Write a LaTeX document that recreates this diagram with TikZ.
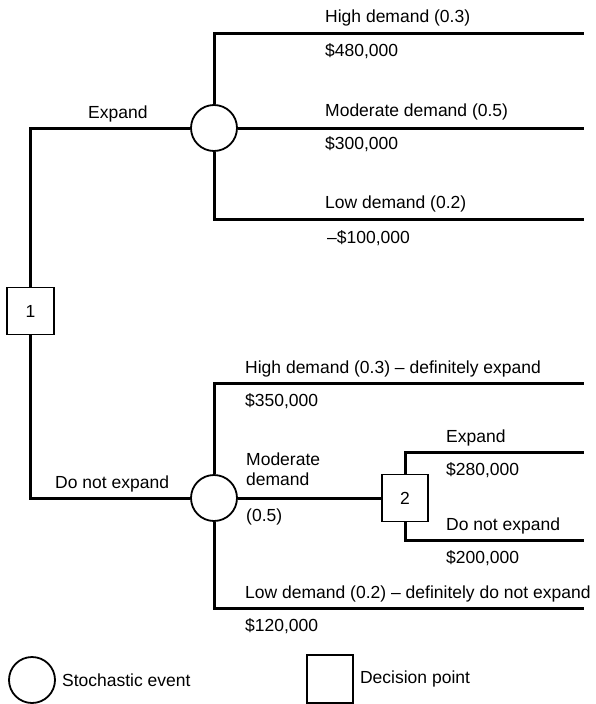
\documentclass[tikz,border=0pt]{standalone}
\usepackage{fontspec}
\setmainfont{Liberation Sans}
\usepackage{tikz}
\usetikzlibrary{positioning,calc}

\begin{document}
\begin{tikzpicture}[
  x=1pt,y=-1pt,
  chance/.style={circle,draw=black,line width=1.8pt,fill=white,minimum size=46pt,inner sep=0pt},
  decision/.style={rectangle,draw=black,line width=1.8pt,fill=white,minimum width=47pt,minimum height=47pt,inner sep=0pt,font=\fontsize{17.5}{20}\selectfont},
  branch/.style={line width=3pt},
  lbl/.style={anchor=base west,inner sep=0pt,font=\fontsize{17.5}{20}\selectfont}
]
\useasboundingbox (0,0) rectangle (595,704);
% end points of the branches
\coordinate (e1) at (584,33);
\coordinate (e2) at (584,128);
\coordinate (e3) at (584,219);
\coordinate (e4) at (584,383);
\coordinate (e5) at (584,452);
\coordinate (e6) at (584,540);
\coordinate (e7) at (584,608);
\node[decision] (d1) at (30.5,311) {1};
\node[chance] (c1) at (214,128) {};
\node[chance] (c2) at (214,498) {};
\node[decision,minimum width=46pt] (d2) at (405,498) {2};
\draw[branch] (d1.north) |- (c1.west);
\draw[branch] (d1.south) |- (c2.west);
\draw[branch] (c1.north) |- (e1);
\draw[branch] (c1.east) -- (e2);
\draw[branch] (c1.south) |- (e3);
\draw[branch] (c2.north) |- (e4);
\draw[branch] (c2.east) -- (d2.west);
\draw[branch] (c2.south) |- (e7);
\draw[branch] (d2.north) |- (e5);
\draw[branch] (d2.south) |- (e6);
\node[lbl] (expand) at (88,118) {Expand};
\node[lbl] (noexpand) at (55,488) {Do not expand};
\node[lbl] (high1) at (325,23) {High demand (0.3)};
\node[lbl] (val1) at (325,56) {\$480,000};
\node[lbl] (mod1) at (325,116) {Moderate demand (0.5)};
\node[lbl] (val2) at (325,149) {\$300,000};
\node[lbl] (low1) at (325,208) {Low demand (0.2)};
\node[lbl] (val3) at (327,243) {\textendash\$100,000};
\node[lbl] (high2) at (245,373) {High demand (0.3) \textendash{} definitely expand};
\node[lbl] (val4) at (245,406) {\$350,000};
\node[lbl] (mod2) at (246,465) {Moderate};
\node[lbl] (mod2b) at (246,485) {demand};
\node[lbl] (prob2) at (246,521) {(0.5)};
\node[lbl] (exp2) at (446,442) {Expand};
\node[lbl] (val5) at (446,475) {\$280,000};
\node[lbl] (noexp2) at (446,530) {Do not expand};
\node[lbl] (val6) at (446,563) {\$200,000};
\node[lbl] (low2) at (245,598) {Low demand (0.2) \textendash{} definitely do not expand};
\node[lbl] (val7) at (245,631) {\$120,000};
\node[chance] (keyc) at (32,680) {};
\node[lbl,right=6pt of keyc.east,anchor=west] (keyctext) {Stochastic event};
\node[decision,minimum height=48pt,minimum width=46pt] (keyd) at (330,679) {};
\node[lbl,right=6pt of keyd.east,anchor=west] (keydtext) {Decision point};
\end{tikzpicture}
\end{document}
